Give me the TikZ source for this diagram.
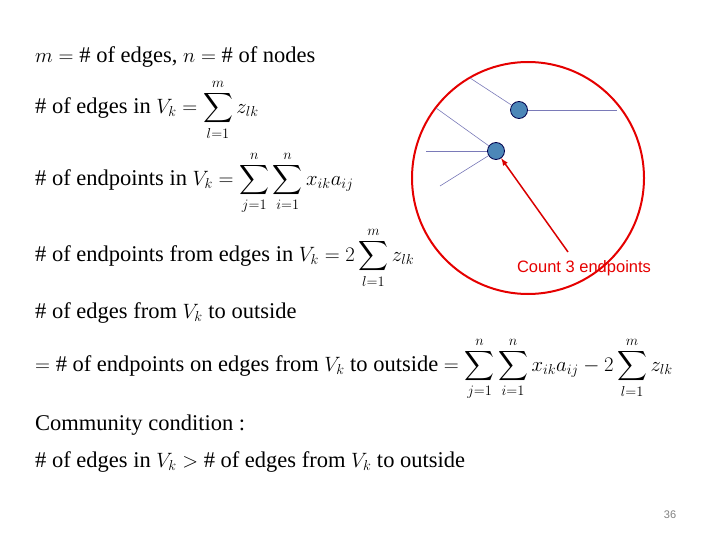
\documentclass[tikz,border=0pt]{standalone}
\usepackage{amsmath}
\usepackage{fontspec}
\setmainfont{Liberation Serif}
\newfontfamily\arialf{Liberation Sans}
\begin{document}
\begin{tikzpicture}[x=1pt,y=-1pt,
  txt/.style={anchor=west,inner sep=0pt,font=\fontsize{22.5}{26}\selectfont},
  vtx/.style={circle,draw=black!70!blue,fill=blue!45!cyan!60!black!70,minimum size=17pt,inner sep=0pt,line width=0.8pt},
  edge/.style={draw=blue!30!gray!80,line width=0.6pt}]
\useasboundingbox (0,0) rectangle (720,540);
\draw[red!90!black,line width=2pt] (528,178) circle (116);
\coordinate (e1) at (470,78); \coordinate (e2) at (617,110);
\coordinate (e3) at (436,108); \coordinate (e4) at (426,151); \coordinate (e5) at (440,186);
\node[vtx] (u) at (519,110) {};
\node[vtx] (v) at (496,151) {};
\draw[edge] (u) -- (e1); \draw[edge] (u) -- (e2);
\draw[edge] (v) -- (e3); \draw[edge] (v) -- (e4); \draw[edge] (v) -- (e5);
\node[anchor=center,text=red!90!black,font=\arialf\fontsize{16.5}{18}\selectfont] (lab) at (584,268) {Count 3 endpoints};
\draw[red!85!black,line width=1.5pt,-latex] (568,252) -- (v);
\node[txt] (t1) at (35,57) {$m=\#$ of edges, $n=\#$ of nodes};
\node[txt] (t2) at (35,110) {\# of edges in $V_k=\displaystyle\sum_{l=1}^{m} z_{lk}$};
\node[txt] (t3) at (35,183) {\# of endpoints in $V_k=\displaystyle\sum_{j=1}^{n}\sum_{i=1}^{n} x_{ik}a_{ij}$};
\node[txt] (t4) at (35,258) {\# of endpoints from edges in $V_k=2\displaystyle\sum_{l=1}^{m} z_{lk}$};
\node[txt] (t5) at (35,313) {\# of edges from $V_k$ to outside};
\node[txt] (t6) at (35,369) {$=$ \# of endpoints on edges from $V_k$ to outside $=\displaystyle\sum_{j=1}^{n}\sum_{i=1}^{n} x_{ik}a_{ij}-2\sum_{l=1}^{m} z_{lk}$};
\node[txt] (t7) at (35,425) {Community condition :};
\node[txt] (t8) at (35,462) {\# of edges in $V_k >$ \# of edges from $V_k$ to outside};
\node[text=gray,font=\arialf\fontsize{11}{12}\selectfont] (pg) at (670,515) {36};
\end{tikzpicture}
\end{document}
